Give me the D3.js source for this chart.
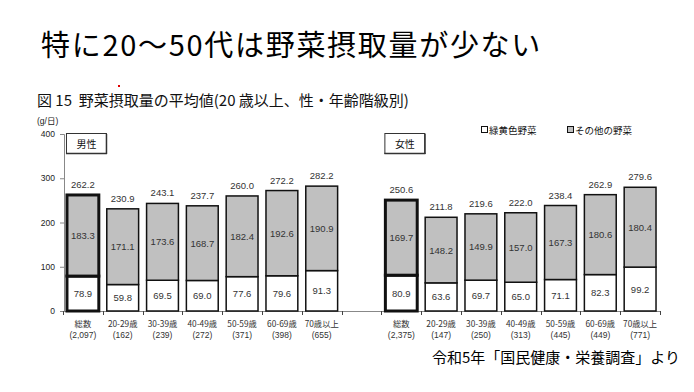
<!DOCTYPE html>
<html><head><meta charset="utf-8">
<script src="https://cdn.jsdelivr.net/npm/d3@7"></script>
<style>
html,body{margin:0;padding:0;background:#fff;}
svg{display:block;}
text{white-space:pre;}
</style></head>
<body>
<script>
const maleCategories = ["総数","20-29歳","30-39歳","40-49歳","50-59歳","60-69歳","70歳以上"];
const maleCounts = ["(2,097)","(162)","(239)","(272)","(371)","(398)","(655)"];
const maleGreenYellow = [78.9, 59.8, 69.5, 69.0, 77.6, 79.6, 91.3];
const maleOther = [183.3, 171.1, 173.6, 168.7, 182.4, 192.6, 190.9];
const maleTotal = [262.2, 230.9, 243.1, 237.7, 260.0, 272.2, 282.2];

const femaleCategories = ["総数","20-29歳","30-39歳","40-49歳","50-59歳","60-69歳","70歳以上"];
const femaleCounts = ["(2,375)","(147)","(250)","(313)","(445)","(449)","(771)"];
const femaleGreenYellow = [80.9, 63.6, 69.7, 65.0, 71.1, 82.3, 99.2];
const femaleOther = [169.7, 148.2, 149.9, 157.0, 167.3, 180.6, 180.4];
const femaleTotal = [250.6, 211.8, 219.6, 222.0, 238.4, 262.9, 279.6];

const yTicks = [0, 100, 200, 300, 400];
const seriesNames = ["緑黄色野菜", "その他の野菜"];
const panelNames = ["男性", "女性"];

const W = 694, H = 392;
const numFont = "'Liberation Sans', Arial, 'Noto Sans CJK JP', sans-serif";
const jpFont = "'Noto Sans CJK JP', 'Liberation Sans', sans-serif";
const GRAY = "#c0c0c0";

const svg = d3.select("body").append("svg").attr("width", W).attr("height", H);

// Title
svg.append("text").attr("x", 41).attr("y", 56)
  .attr("font-family", jpFont).attr("font-size", 29).attr("letter-spacing", 1.7).attr("fill", "#000")
  .text("特に20～50代は野菜摂取量が少ない");

// tiny red mark
svg.append("rect").attr("x", 118).attr("y", 85).attr("width", 2).attr("height", 2).attr("fill", "#e00000");

// Subtitle
svg.append("text").attr("x", 37).attr("y", 106)
  .attr("font-family", jpFont).attr("font-size", 15).attr("fill", "#111")
  .text("図 15  野菜摂取量の平均値(20 歳以上、性・年齢階級別)");

svg.append("text").attr("x", 37).attr("y", 124)
  .attr("font-family", numFont).attr("font-size", 8.5).attr("fill", "#222")
  .text("(g/日)");

// Data rows
const rows = [];
maleCategories.forEach((c, i) => rows.push({slot: i, cat: c, n: maleCounts[i], gy: maleGreenYellow[i], ot: maleOther[i], tot: maleTotal[i], first: i === 0}));
femaleCategories.forEach((c, i) => rows.push({slot: i + 8, cat: c, n: femaleCounts[i], gy: femaleGreenYellow[i], ot: femaleOther[i], tot: femaleTotal[i], first: i === 0}));

const x = d3.scaleBand().domain(d3.range(15)).range([63, 660]).paddingInner(0.2).paddingOuter(0.1);
const y = d3.scaleLinear().domain([0, 400]).range([311, 134]);

// Y axis
const yAxis = svg.append("g").attr("transform", "translate(64,0)")
  .call(d3.axisLeft(y).tickValues(yTicks).tickSize(4).tickPadding(3));
yAxis.select(".domain").attr("stroke", "#888");
yAxis.selectAll(".tick line").attr("stroke", "#888");
yAxis.selectAll(".tick text").attr("font-family", numFont).attr("font-size", 8.5).attr("fill", "#222").attr("dx", -2);

// X axis line and ticks at band boundaries
const step = x.step();
svg.append("line").attr("x1", 63).attr("x2", 661).attr("y1", 311.5).attr("y2", 311.5).attr("stroke", "#888");
d3.range(16).forEach(i => {
  const tx = Math.round(63 + i * step) + 0.5;
  svg.append("line").attr("x1", tx).attr("x2", tx).attr("y1", 311).attr("y2", 315).attr("stroke", "#444");
});

// Bars
const bars = svg.append("g");
rows.forEach(r => {
  const bx = x(r.slot), bw = x.bandwidth();
  const sw = r.first ? 3 : 1.5;
  const stroke = "#111";
  bars.append("rect").attr("x", bx).attr("y", y(r.gy)).attr("width", bw).attr("height", y(0) - y(r.gy))
    .attr("fill", "#fff").attr("stroke", stroke).attr("stroke-width", sw);
  bars.append("rect").attr("x", bx).attr("y", y(r.gy + r.ot)).attr("width", bw).attr("height", y(r.gy) - y(r.gy + r.ot))
    .attr("fill", GRAY).attr("stroke", stroke).attr("stroke-width", sw);
  const cx = bx + bw / 2;
  bars.append("text").attr("x", cx).attr("y", (y(0) + y(r.gy)) / 2 + 3.5)
    .attr("text-anchor", "middle").attr("font-family", numFont).attr("font-size", 9.5).attr("fill", "#333")
    .text(r.gy.toFixed(1));
  bars.append("text").attr("x", cx).attr("y", (y(r.gy) + y(r.gy + r.ot)) / 2 + 3.5)
    .attr("text-anchor", "middle").attr("font-family", numFont).attr("font-size", 9.5).attr("fill", "#333")
    .text(r.ot.toFixed(1));
  bars.append("text").attr("x", cx).attr("y", y(r.gy + r.ot) - 7)
    .attr("text-anchor", "middle").attr("font-family", numFont).attr("font-size", 9.5).attr("fill", "#333")
    .text(r.tot.toFixed(1));
  bars.append("text").attr("x", cx).attr("y", 327)
    .attr("text-anchor", "middle").attr("font-family", jpFont).attr("font-size", 8.3).attr("fill", "#333")
    .text(r.cat);
  bars.append("text").attr("x", cx).attr("y", 337.5)
    .attr("text-anchor", "middle").attr("font-family", numFont).attr("font-size", 8.5).attr("fill", "#333")
    .text(r.n);
});

// Panel label boxes
[0, 8].forEach((slot, k) => {
  const bx = x(slot) - 1;
  svg.append("rect").attr("x", bx + 0.5).attr("y", 133.5).attr("width", 40).attr("height", 20)
    .attr("fill", "#fff").attr("stroke", "#333").attr("stroke-width", 1);
  svg.append("line").attr("x1", bx + 40.5).attr("x2", bx + 40.5).attr("y1", 134).attr("y2", 154).attr("stroke", "#333").attr("stroke-width", 1.5);
  svg.append("line").attr("x1", bx).attr("x2", bx + 41).attr("y1", 153.5).attr("y2", 153.5).attr("stroke", "#333").attr("stroke-width", 1.5);
  svg.append("text").attr("x", bx + 20.5).attr("y", 147.5).attr("text-anchor", "middle")
    .attr("font-family", jpFont).attr("font-size", 10).attr("fill", "#111").text(panelNames[k]);
});

// Legend
const legendX = [481, 567];
const legendFill = ["#fff", GRAY];
seriesNames.forEach((s, i) => {
  svg.append("rect").attr("x", legendX[i] + 0.5).attr("y", 126.5).attr("width", 6).attr("height", 6)
    .attr("fill", legendFill[i]).attr("stroke", "#111").attr("stroke-width", 1);
  svg.append("text").attr("x", legendX[i] + 8).attr("y", 133.5)
    .attr("font-family", jpFont).attr("font-size", 9.5).attr("fill", "#111").text(s);
});

// Source
svg.append("text").attr("x", 432).attr("y", 363)
  .attr("font-family", jpFont).attr("font-size", 15).attr("fill", "#000")
  .text("令和5年「国民健康・栄養調査」より");
</script>
</body></html>
